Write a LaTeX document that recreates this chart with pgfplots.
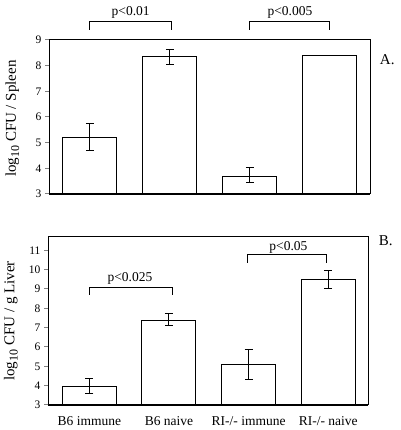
\documentclass[border=0pt]{standalone}
\usepackage{fontspec}
\setmainfont{Liberation Serif}
\usepackage{pgfplots}
\pgfplotsset{compat=1.18}
\newcommand{\sub}[1]{\raisebox{-0.45ex}{\fontsize{12}{12}\selectfont #1}}
\pgfplotsset{
  myax/.style={
    scale only axis,
    ybar, bar width=54pt, bar shift=0pt,
    xmin=-0.51, xmax=3.5,
    tick align=outside, major tick length=4pt,
    ytick pos=left, xtick pos=bottom,
    xtick style={draw=none},
    tick label style={font=\fontsize{11.5}{13}\selectfont},
    /pgf/number format/assume math mode=true,
    clip=false,
    axis line style={line width=1pt},
    ytick style={line width=1pt},
    every axis y label/.style={rotate=90, anchor=center, font=\fontsize{15}{17}\selectfont},
    error bars/y dir=both, error bars/y explicit,
    error bars/error bar style={line width=1pt, black},
    error bars/error mark options={rotate=90, mark size=4pt, line width=1pt, black},
    after end axis/.code={\draw[line width=1.8pt] (rel axis cs:0,0) -- (rel axis cs:1,0);},
  },
  mybar/.style={draw=black, fill=white, line width=1pt},
}
\begin{document}
\begin{tikzpicture}
\useasboundingbox (0pt,0pt) rectangle (400pt,430pt);
% Panel A
\begin{axis}[myax,
  at={(49pt,236pt)}, anchor=south west,
  width=321pt, height=154pt,
  ymin=3, ymax=9, ytick={3,4,5,6,7,8,9},
  xtick=\empty,
  ylabel={log\sub{10} CFU / Spleen},
  every axis y label/.append style={at={(axis description cs:-0.114,0.49)}},
]
\addplot[mybar] coordinates {
  (0,5.22) += (0,0.53) -= (0,0.54)
  (1,8.37) += (0,0.27) -= (0,0.32)
  (2,3.70) += (0,0.34) -= (0,0.26)
};
\addplot[mybar, forget plot] coordinates {(3,8.40)};
\draw[line width=1pt] (axis cs:0,9.39) -- (axis cs:0,9.74) -- (axis cs:1.02,9.74) -- (axis cs:1.02,9.39);
\draw[line width=1pt] (axis cs:2,9.39) -- (axis cs:2,9.74) -- (axis cs:3,9.74) -- (axis cs:3,9.39);
\node[font=\fontsize{13.5}{15}\selectfont] at (axis cs:0.51,10.06) {p<0.01};
\node[font=\fontsize{13.5}{15}\selectfont] at (axis cs:2.5,10.06) {p<0.005};
\node[anchor=west, font=\fontsize{15}{17}\selectfont] at (rel axis cs:1.02,0.87) {A.};
\end{axis}
% Panel B
\begin{axis}[myax,
  at={(48pt,25pt)}, anchor=south west,
  width=320pt, height=168pt,
  xmin=-0.52, xmax=3.5,
  ymin=3, ymax=11.69, ytick={3,4,5,6,7,8,9,10,11},
  xtick={0,1,2,3},
  xticklabels={B6 immune, B6 naive, RI-/- immune, RI-/- naive},
  xticklabel style={font=\fontsize{13.5}{15}\selectfont, yshift=-4pt},
  ylabel={log\sub{10} CFU / g Liver},
  every axis y label/.append style={at={(axis description cs:-0.116,0.5)}},
]
\addplot[mybar] coordinates {
  (0,3.95) += (0,0.43) -= (0,0.34)
  (1,7.37) += (0,0.38) -= (0,0.28)
  (2,5.07) += (0,0.82) -= (0,0.77)
  (3,9.51) += (0,0.43) -= (0,0.50)
};
\draw[line width=1pt] (axis cs:0,8.70) -- (axis cs:0,9.08) -- (axis cs:1.04,9.08) -- (axis cs:1.04,8.70);
\draw[line width=1pt] (axis cs:1.98,10.36) -- (axis cs:1.98,10.77) -- (axis cs:2.98,10.77) -- (axis cs:2.98,10.36);
\node[font=\fontsize{13.5}{15}\selectfont] at (axis cs:0.51,9.56) {p<0.025};
\node[font=\fontsize{13.5}{15}\selectfont] at (axis cs:2.5,11.17) {p<0.05};
\node[anchor=west, font=\fontsize{15}{17}\selectfont] at (rel axis cs:1.023,0.98) {B.};
\end{axis}
\end{tikzpicture}
\end{document}
